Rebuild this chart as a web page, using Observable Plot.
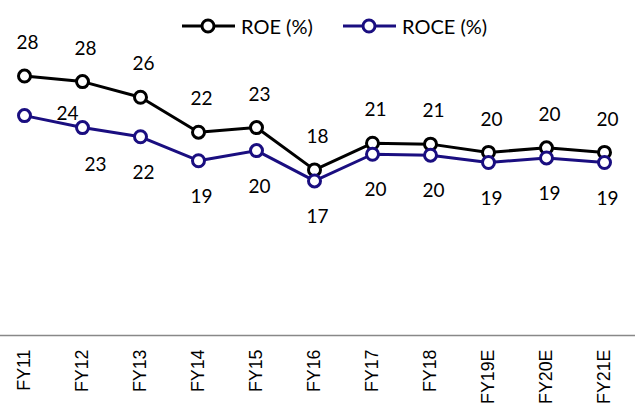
<!DOCTYPE html>
<html>
<head>
<meta charset="utf-8">
<script src="https://cdn.jsdelivr.net/npm/d3@7"></script>
<script src="https://cdn.jsdelivr.net/npm/@observablehq/plot@0.6"></script>
<style>
  html, body { margin: 0; padding: 0; background: #fff; }
  #wrap { position: relative; width: 635px; height: 405px; overflow: hidden; }
  .leg { position: absolute; top: 14px; display: flex; align-items: center; font-family: Lato, "Open Sans", sans-serif; font-size: 20px; color: #000; }
  .leg svg { margin-right: 6px; }
</style>
</head>
<body>
<div id="wrap"></div>
<script>
const categories = ["FY11","FY12","FY13","FY14","FY15","FY16","FY17","FY18","FY19E","FY20E","FY21E"];
const roe  = [28.2, 27.6, 25.9, 22.1, 22.6, 18.0, 20.9, 20.8, 19.9, 20.4, 19.9];
const roce = [23.9, 22.6, 21.6, 19.0, 20.1, 16.8, 19.7, 19.6, 18.8, 19.3, 18.8];
const seriesNames = ["ROE (%)", "ROCE (%)"];
const colors = ["#000000", "#1a0e80"];

const roeData = categories.map((c, i) => ({cat: c, v: roe[i], i}));
const roceData = categories.map((c, i) => ({cat: c, v: roce[i], i}));
const fmt = d => d3.format(".0f")(d.v);
const labelFont = "Lato, 'Open Sans', sans-serif";

const chart = Plot.plot({
  width: 635,
  height: 405,
  marginLeft: 0,
  marginRight: 0,
  marginTop: 59,
  marginBottom: 70,
  x: {type: "point", domain: categories, range: [22, 605], padding: 0, label: null},
  y: {domain: [0, 30], axis: null},
  marks: [
    Plot.ruleY([0], {stroke: "#888888", strokeWidth: 1.5}),
    Plot.axisX({label: null, tickRotate: -90, tickSize: 0, tickPadding: 14, dx: 0, fontSize: 17.8, fontFamily: "'Liberation Sans', Arial, sans-serif", fill: "#000"}),
    Plot.line(roeData, {x: "cat", y: "v", stroke: colors[0], strokeWidth: 3}),
    Plot.dot(roeData, {x: "cat", y: "v", r: 6, stroke: colors[0], strokeWidth: 3, fill: "#fff"}),
    Plot.line(roceData, {x: "cat", y: "v", stroke: colors[1], strokeWidth: 3}),
    Plot.dot(roceData, {x: "cat", y: "v", r: 6, stroke: colors[1], strokeWidth: 3, fill: "#fff"}),
    Plot.text(roeData, {x: "cat", y: "v", text: fmt, dx: 3, dy: -33, fontSize: 19, fontFamily: labelFont, fill: "#000", lineAnchor: "middle"}),
    Plot.text(roceData.filter(d => d.i === 0), {x: "cat", y: "v", text: fmt, dx: 43, dy: -2, fontSize: 19, fontFamily: labelFont, fill: "#000", lineAnchor: "middle"}),
    Plot.text(roceData.filter(d => d.i === 1), {x: "cat", y: "v", text: fmt, dx: 13, dy: 37, fontSize: 19, fontFamily: labelFont, fill: "#000", lineAnchor: "middle"}),
    Plot.text(roceData.filter(d => d.i > 1), {x: "cat", y: "v", text: fmt, dx: 3, dy: 36, fontSize: 19, fontFamily: labelFont, fill: "#000", lineAnchor: "middle"})
  ]
});

const wrap = document.getElementById("wrap");
wrap.appendChild(chart);

const legLefts = [182, 343];
seriesNames.forEach((name, k) => {
  const item = document.createElement("div");
  item.className = "leg";
  item.style.left = legLefts[k] + "px";
  item.innerHTML = `<svg width="53" height="22"><line x1="0" y1="11" x2="53" y2="11" stroke="${colors[k]}" stroke-width="3"/><circle cx="26" cy="11" r="6" fill="#fff" stroke="${colors[k]}" stroke-width="3"/></svg><span>${name}</span>`;
  wrap.appendChild(item);
});
</script>
</body>
</html>
